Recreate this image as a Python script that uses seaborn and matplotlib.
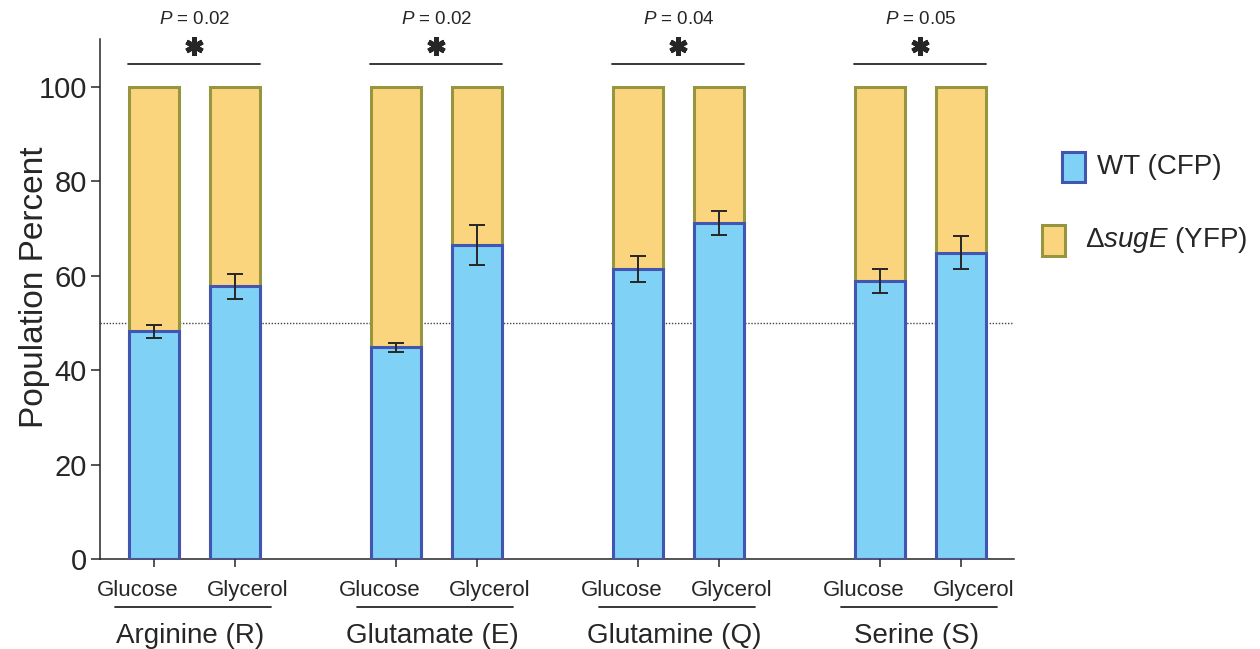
import numpy as np
import pandas as pd
import matplotlib
matplotlib.use("Agg")
import matplotlib.pyplot as plt
import matplotlib.transforms as mtransforms
from matplotlib.patches import Rectangle
import seaborn as sns

# ---------------- data ----------------
amino_acids = ["Arginine (R)", "Glutamate (E)", "Glutamine (Q)", "Serine (S)"]
carbon_sources = ["Glucose", "Glycerol"]
wt_percent = [48.2, 57.7, 44.8, 66.5, 61.4, 71.2, 58.9, 64.8]
wt_error = [1.4, 2.7, 1.0, 4.2, 2.8, 2.5, 2.6, 3.5]
sugE_percent = [100 - v for v in wt_percent]
p_values = ["0.02", "0.02", "0.04", "0.05"]
y_ticks = [0, 20, 40, 60, 80, 100]
series_labels = ["WT (CFP)", r"$\Delta$$\it{sugE}$ (YFP)"]

# ---------------- style ----------------
sns.set_style("ticks")
plt.rcParams["font.family"] = ["Liberation Sans", "DejaVu Sans"]
plt.rcParams["mathtext.fontset"] = "custom"
plt.rcParams["mathtext.rm"] = "Liberation Sans"
plt.rcParams["mathtext.it"] = "Liberation Sans:italic"
plt.rcParams["mathtext.bf"] = "Liberation Sans:bold"

blue_fill, blue_edge = "#7fd1f5", "#4255b0"
yel_fill, yel_edge = "#fbd57d", "#969641"
ink = "#262626"

# positions: groups separated by a gap
group_step = 3
pos = []
grp = []
cond = []
for g, aa in enumerate(amino_acids):
    for c, cs in enumerate(carbon_sources):
        pos.append(g * group_step + c)
        grp.append(aa)
        cond.append(cs)

df = pd.DataFrame({
    "pos": pos, "group": grp, "condition": cond,
    "wt": wt_percent, "err": wt_error, "sugE": sugE_percent,
})
df["total"] = df["wt"] + df["sugE"]

fig = plt.figure(figsize=(12.6, 6.49), dpi=100)
ax = fig.add_axes([0.0794, 0.1384, 0.7254, 0.8010])

ax.axhline(50, ls=(0, (1, 1.2)), lw=1.0, color="#444444", zorder=0)

bw = 0.62
sns.barplot(data=df, x="pos", y="total", native_scale=True, width=bw,
            color=yel_fill, edgecolor=yel_edge, linewidth=2.2,
            errorbar=None, ax=ax, saturation=1, zorder=2)
sns.barplot(data=df, x="pos", y="wt", native_scale=True, width=bw,
            color=blue_fill, edgecolor=blue_edge, linewidth=2.2,
            errorbar=None, ax=ax, saturation=1, zorder=3)
ax.errorbar(df["pos"], df["wt"], yerr=df["err"], fmt="none",
            ecolor=ink, elinewidth=1.4, capsize=5.5, capthick=1.4, zorder=4)

ax.set_xlim(-0.67, 10.66)
ax.set_ylim(0, 110)
ax.set_yticks(y_ticks)
ax.tick_params(axis="y", labelsize=21, length=6.5, width=1.1, color=ink,
               labelcolor=ink, pad=3)
ax.tick_params(axis="x", labelsize=16, length=6, width=1.1, color=ink,
               labelcolor=ink, pad=9)
ax.set_ylabel("Population Percent", fontsize=24, color=ink)
ax.yaxis.set_label_coords(-0.055, 0.523)
ax.set_xlabel("")
ax.set_xticks(df["pos"])
ax.set_xticklabels(df["condition"])
for lab, c in zip(ax.get_xticklabels(), df["condition"]):
    dx = -12 / 72 if c == "Glucose" else 9 / 72
    lab.set_transform(lab.get_transform() +
                      mtransforms.ScaledTranslation(dx, 0, fig.dpi_scale_trans))
for s in ["left", "bottom"]:
    ax.spines[s].set_linewidth(1.1)
    ax.spines[s].set_color(ink)
sns.despine(ax=ax)

# group underline + group label, and significance brackets
for g, aa in enumerate(amino_acids):
    x0 = g * group_step
    ax.plot([x0 - 0.48, x0 + 1.45], [-10.1, -10.1], color=ink, lw=1.3,
            clip_on=False, transform=ax.transData)
    ax.text(x0 + 0.45, -16.2, aa, ha="center", va="center", fontsize=20,
            color=ink, clip_on=False)
    ax.plot([x0 - 0.32, x0 + 1.31], [104.8, 104.8], color=ink, lw=1.3,
            clip_on=False)
    ax.plot([x0 + 0.5], [108.6], marker=(6, 2, 0), ms=13, mew=3.6,
            color=ink, clip_on=False)
    ax.text(x0 + 0.5, 114.2, r"$\it{P}$ = " + p_values[g], ha="center",
            va="center", fontsize=13.5, color=ink, clip_on=False)

# legend (manual, in figure pixels)
W, H = fig.get_size_inches() * fig.dpi
def fx(px):
    return px / W
def fy(py):
    return 1 - py / H
fig.patches.append(Rectangle((fx(1062), fy(182)), fx(1085) - fx(1062),
                             fy(152) - fy(182), transform=fig.transFigure,
                             facecolor=blue_fill, edgecolor=blue_edge, lw=2.2))
fig.text(fx(1097), fy(167), series_labels[0], fontsize=20, color=ink,
         ha="left", va="center")
fig.patches.append(Rectangle((fx(1042), fy(256)), fx(1065) - fx(1042),
                             fy(225) - fy(256), transform=fig.transFigure,
                             facecolor=yel_fill, edgecolor=yel_edge, lw=2.2))
fig.text(fx(1085), fy(240), series_labels[1], fontsize=20, color=ink,
         ha="left", va="center")

fig.savefig("out.png", dpi=100)
